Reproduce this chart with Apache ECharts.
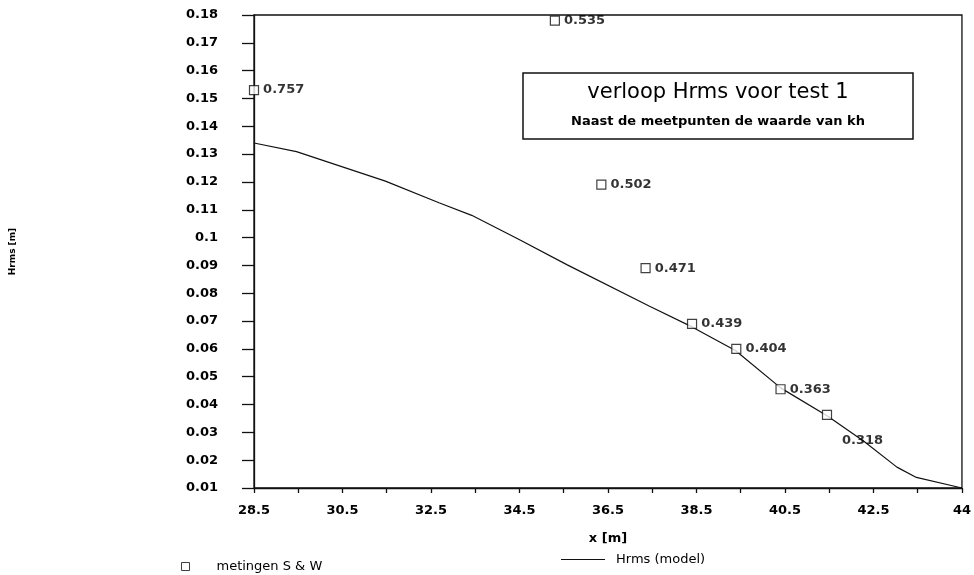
<!DOCTYPE html>
<html>
<head>
<meta charset="utf-8">
<script src="https://cdn.jsdelivr.net/npm/echarts@6/dist/echarts.min.js"></script>
<style>
  html, body { margin: 0; padding: 0; background: #fff; }
  #chart { width: 974px; height: 575px; }
</style>
</head>
<body>
<div id="chart"></div>
<script>
// metingen S & W (measured points) with kh value written next to each
const measX = [28.5, 35.3, 36.35, 37.35, 38.4, 39.4, 40.4, 41.45];
const measY = [0.153, 0.178, 0.119, 0.089, 0.069, 0.060, 0.0455, 0.0363];
const measKh = ['0.757', '0.535', '0.502', '0.471', '0.439', '0.404', '0.363', '0.318'];

// Hrms (model) curve
const modelX = [28.5, 29.46, 31.47, 32.68, 33.42, 34.47, 35.58, 37.44, 38.4, 39.38, 40.41, 41.46, 42.29, 43.03, 43.47, 44.5];
const modelY = [0.134, 0.1309, 0.1203, 0.1125, 0.108, 0.0995, 0.0902, 0.0753, 0.0679, 0.0594, 0.0459, 0.0359, 0.0267, 0.0175, 0.0138, 0.0100];

// axis ticks
const xTickValues = [28.5, 29.5, 30.5, 31.5, 32.5, 33.5, 34.5, 35.5, 36.5, 37.5, 38.5, 39.5, 40.5, 41.5, 42.5, 43.5, 44.5];
const xLabelValues = [28.5, 30.5, 32.5, 34.5, 36.5, 38.5, 40.5, 42.5, 44.5];
const xLabelTexts = ['28.5', '30.5', '32.5', '34.5', '36.5', '38.5', '40.5', '42.5', '44'];

const FONT = 'DejaVu Sans';

const measData = measX.map((x, i) => {
    const item = {value: [x, measY[i]], kh: measKh[i]};
    // last kh label sits below-right of its square
    if (i === measX.length - 1) {
        item.label = {position: [20, 24]};
    }
    return item;
});

const chart = echarts.init(document.getElementById('chart'));
chart.setOption({
    animation: false,
    backgroundColor: '#fff',
    grid: {
        left: 250,
        right: 11,
        top: 15,
        bottom: 87,
        show: true,
        borderColor: '#111',
        borderWidth: 1.3
    },
    legend: [
        {
            data: ['metingen S & W'],
            left: 176,
            top: 555,
            itemWidth: 8,
            itemHeight: 8,
            itemStyle: {color: '#fff', borderColor: '#111', borderWidth: 1},
            textStyle: {fontFamily: FONT, fontSize: 13, color: '#000', padding: [0, 0, 0, 22]}
        },
        {
            data: ['Hrms (model)'],
            left: 556,
            top: 548,
            icon: 'rect',
            itemWidth: 44,
            itemHeight: 1,
            itemStyle: {color: '#111'},
            textStyle: {fontFamily: FONT, fontSize: 13, color: '#000', padding: [0, 0, 0, 6]}
        }
    ],
    graphic: [
        {
            type: 'rect',
            shape: {x: 523, y: 73, width: 390, height: 66},
            style: {fill: '#fff', stroke: '#111', lineWidth: 1.5},
            z: 10
        },
        {
            type: 'text',
            x: 718,
            y: 93,
            style: {
                text: 'verloop Hrms voor test 1',
                font: '21px "DejaVu Sans"',
                fill: '#000',
                align: 'center',
                verticalAlign: 'middle'
            },
            z: 11
        },
        {
            type: 'text',
            x: 718,
            y: 122,
            style: {
                text: 'Naast de meetpunten de waarde van kh',
                font: 'bold 13px "DejaVu Sans"',
                fill: '#000',
                align: 'center',
                verticalAlign: 'middle'
            },
            z: 11
        }
    ],
    xAxis: {
        type: 'value',
        min: 28.5,
        max: 44.5,
        name: 'x [m]',
        nameLocation: 'middle',
        nameGap: 44,
        nameTextStyle: {fontFamily: FONT, fontSize: 13, fontWeight: 'bold', color: '#000'},
        axisLine: {show: true, onZero: false, lineStyle: {color: '#111', width: 1.3}},
        axisTick: {show: true, length: 5, customValues: xTickValues, lineStyle: {color: '#111', width: 1.3}},
        axisLabel: {
            customValues: xLabelValues,
            margin: 16,
            fontFamily: FONT,
            fontSize: 13,
            fontWeight: 'bold',
            color: '#000',
            formatter: v => {
                const i = xLabelValues.findIndex(t => Math.abs(t - v) < 1e-6);
                return i >= 0 ? xLabelTexts[i] : '';
            }
        },
        splitLine: {show: false}
    },
    yAxis: {
        type: 'value',
        min: 0.01,
        max: 0.18,
        interval: 0.01,
        name: 'Hrms [m]',
        nameLocation: 'middle',
        nameGap: 237,
        nameTextStyle: {fontFamily: FONT, fontSize: 9, fontWeight: 'bold', color: '#000'},
        axisLine: {show: true, onZero: false, lineStyle: {color: '#111', width: 1.3}},
        axisTick: {show: true, length: 12, lineStyle: {color: '#111', width: 1.3}},
        axisLabel: {
            margin: 36,
            fontFamily: FONT,
            fontSize: 13,
            fontWeight: 'bold',
            color: '#000',
            formatter: v => String(parseFloat(v.toFixed(2)))
        },
        splitLine: {show: false}
    },
    series: [
        {
            name: 'Hrms (model)',
            type: 'line',
            data: modelX.map((x, i) => [x, modelY[i]]),
            showSymbol: false,
            symbol: 'none',
            smooth: false,
            lineStyle: {color: '#111', width: 1.2},
            itemStyle: {color: '#111'},
            z: 2
        },
        {
            name: 'metingen S & W',
            type: 'scatter',
            data: measData,
            symbol: 'rect',
            symbolSize: 9,
            itemStyle: {color: '#fff', borderColor: '#111', borderWidth: 1.2},
            label: {
                show: true,
                position: 'right',
                distance: 4,
                fontFamily: FONT,
                fontSize: 13,
                fontWeight: 'bold',
                color: '#000',
                textBorderWidth: 0,
                formatter: p => p.data.kh
            },
            z: 3
        }
    ]
});
</script>
</body>
</html>
